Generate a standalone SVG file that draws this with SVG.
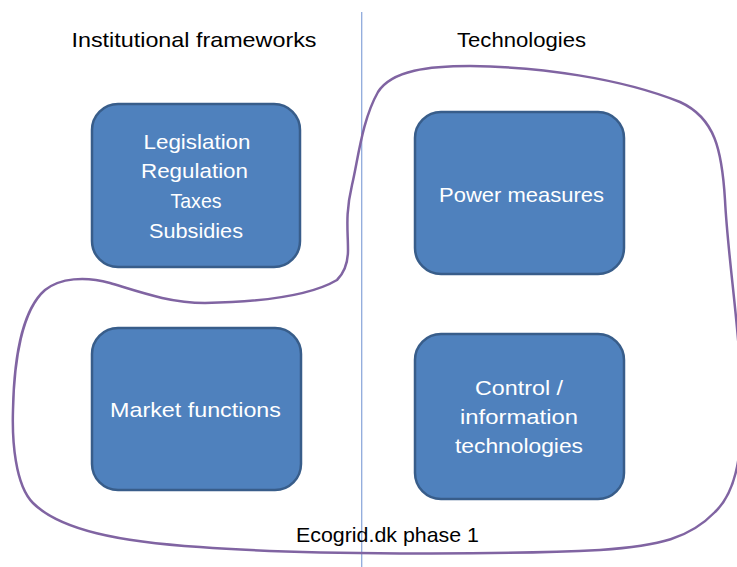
<svg xmlns="http://www.w3.org/2000/svg" width="737" height="567" viewBox="0 0 737 567">
<style>
.box{fill:#4F81BD;stroke:#385D8A;stroke-width:2.5}
.wt{fill:#FFFFFF;font-family:"Liberation Sans",Arial,sans-serif;font-size:21px;text-anchor:middle}
.bt{fill:#000000;font-family:"Liberation Sans",Arial,sans-serif;font-size:21px;text-anchor:middle}
</style>
<rect width="737" height="567" fill="#FFFFFF"/>
<g id="divider">
<line x1="361.7" y1="12" x2="361.7" y2="567" stroke="#8FAADC" stroke-width="1.3"/>
</g>
<g id="titles">
<text class="bt" x="194" y="47" textLength="245" lengthAdjust="spacingAndGlyphs">Institutional frameworks</text>
<text class="bt" x="521.5" y="47" textLength="129" lengthAdjust="spacingAndGlyphs">Technologies</text>
</g>
<g id="node-institutional">
<rect class="box" x="92" y="104" width="208" height="163" rx="26"/>
<text class="wt" x="197" y="149" textLength="107" lengthAdjust="spacingAndGlyphs">Legislation</text>
<text class="wt" x="194.5" y="178" textLength="107" lengthAdjust="spacingAndGlyphs">Regulation</text>
<text class="wt" x="196" y="208" textLength="51" lengthAdjust="spacingAndGlyphs">Taxes</text>
<text class="wt" x="196" y="238" textLength="94" lengthAdjust="spacingAndGlyphs">Subsidies</text>
</g>
<g id="node-market">
<rect class="box" x="92" y="328" width="209" height="162" rx="26"/>
<text class="wt" x="195.5" y="417" textLength="171" lengthAdjust="spacingAndGlyphs">Market functions</text>
</g>
<g id="node-power">
<rect class="box" x="415" y="112" width="209" height="162" rx="26"/>
<text class="wt" x="521.5" y="202" textLength="165" lengthAdjust="spacingAndGlyphs">Power measures</text>
</g>
<g id="node-control">
<rect class="box" x="415" y="334" width="209" height="165" rx="26"/>
<text class="wt" x="519" y="395" textLength="88" lengthAdjust="spacingAndGlyphs">Control /</text>
<text class="wt" x="519" y="424" textLength="118" lengthAdjust="spacingAndGlyphs">information</text>
<text class="wt" x="519" y="453" textLength="128" lengthAdjust="spacingAndGlyphs">technologies</text>
</g>
<g id="connectors">
<path d="M337,280 C345,272 348,262 348,250 C348,230 345,215 352,185 C358,160 362,120 378,92 C392,70 430,66 470,66 C540,67 620,78 680,102 C715,118 722,150 725,200 C728,260 740,330 742,400 C742,450 738,490 715,512 C690,538 660,546 600,550 C500,555 300,555 200,547 C120,542 60,530 33,503 C15,485 12,440 13,410 C14,360 22,310 45,290 C60,278 85,276 110,283 C140,292 170,303 205,303 C260,302 310,296 337,280 Z" fill="none" stroke="#8064A2" stroke-width="2.5"/>
</g>
<g id="group-label">
<text class="bt" x="387.5" y="541.5" textLength="183" lengthAdjust="spacingAndGlyphs">Ecogrid.dk phase 1</text>
</g>
</svg>
